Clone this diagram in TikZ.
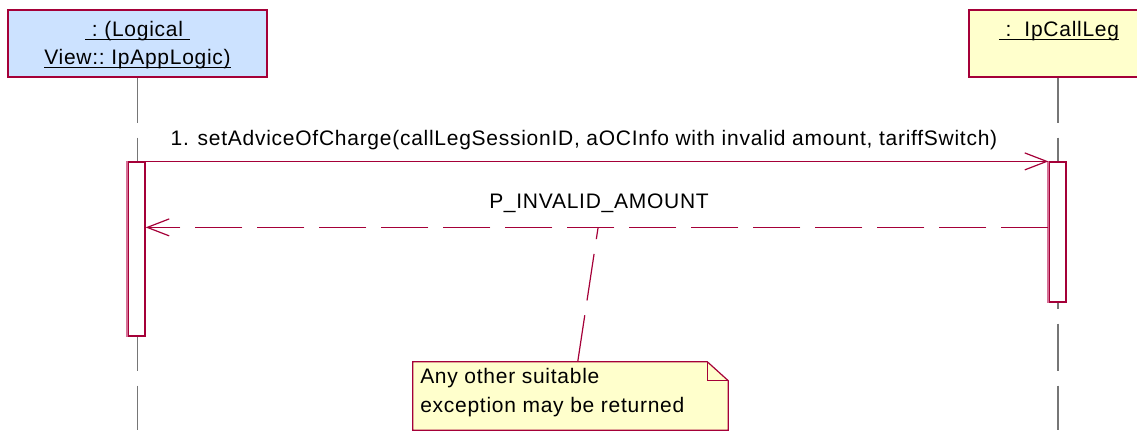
\documentclass[tikz,border=0pt]{standalone}
\usepackage{fontspec}
\setmainfont{Liberation Sans}
\usetikzlibrary{arrows.meta, positioning, calc}
\definecolor{umlred}{RGB}{165,0,56}
\definecolor{umlpink}{RGB}{214,112,150}
\definecolor{umlblue}{RGB}{204,226,255}
\definecolor{umlyellow}{RGB}{255,255,204}
\definecolor{lifegray}{RGB}{118,118,118}
\newcommand\pix{0.75pt}
\newcommand\umlfont{\fontsize{15.75pt}{21pt}\selectfont}
\newcommand\umlname[1]{\setbox0=\hbox{#1}\rlap{\rule[-2.4pt]{\wd0}{1.2pt}}\box0}

\begin{document}
\begin{tikzpicture}[x=0.75pt, y=-0.75pt,
  every node/.style={inner sep=0pt, font=\umlfont},
  objbox/.style={rectangle, draw=umlred, line width=0.9pt, minimum height=67*\pix},
  actbox/.style={rectangle, draw=umlred, fill=white, line width=0.9pt, minimum width=17*\pix},
  lifeline/.style={draw=lifegray, line width=1.2pt, dash pattern=on 35.25pt off 11.25pt, dash phase=1.5pt},
  msgline/.style={draw=umlred, line width=0.9pt},
  retline/.style={msgline, dash pattern=on 35.25pt off 11.25pt},
  opentip/.style={-{Straight Barb[length=16.5pt, width=12.75pt, line width=0.9pt]}},
  msgtext/.style={font=\umlfont\addfontfeature{LetterSpace=3.5}}]

\clip (0,0) rectangle (1137,445);

% objects
\node[objbox, fill=umlblue, minimum width=259*\pix] (appLogic) at (137.5,43.5) {};
\node[objbox, fill=umlyellow, minimum width=178*\pix] (callLeg) at (1058,43.5) {};
\node[msgtext, anchor=base] (appName1) at (137.5,37) {\umlname{\ :\ (Logical\ }};
\node[msgtext, anchor=base] (appName2) at (137.5,65) {\umlname{View::\ IpAppLogic)}};
\node[msgtext, anchor=base] (legName) at (1059,37) {\umlname{\ :\ \ IpCallLeg}};

% lifelines
\coordinate (appEnd) at (137.5,430);
\coordinate (legEnd) at (1058,430);
\draw[lifeline] (appLogic.south) -- (appEnd);
\draw[lifeline] (callLeg.south) -- (legEnd);

% activations
\node[actbox, minimum height=174*\pix] (appAct) at (136.5,249) {};
\node[actbox, minimum height=140*\pix] (legAct) at (1057.5,232) {};
\draw[umlpink, line width=1.4pt] (appAct.south west) -- (appAct.north west);
\draw[umlpink, line width=1.4pt] (legAct.south west) -- (legAct.north west);

% messages
\draw[msgline, opentip] (appAct.north east) -- (legAct.north west);
\node[msgtext, anchor=base] (msgCall) at (584,146)
  {1. setAdviceOfCharge(callLegSessionID, aOCInfo with invalid amount, tariffSwitch)};
\coordinate (retStart) at ($(legAct.north west)+(0,66)$);
\coordinate (retEnd) at ($(appAct.north east)+(0,66)$);
\draw[retline, opentip] (retStart) -- (retEnd);
\node[msgtext, anchor=base] (msgRet) at (599,209) {P\_INVALID\_AMOUNT};

% note
\node[minimum width=315*\pix, minimum height=68*\pix] (note) at (570.5,396) {};
\draw[umlred, line width=0.9pt, fill=umlyellow] (note.south west) -- (note.north west)
  -- ($(note.north east)+(-21,0)$) -- ($(note.north east)+(0,19)$) -- (note.south east) -- cycle;
\draw[umlred, line width=0.9pt] ($(note.north east)+(-21,0)$) |- ($(note.north east)+(0,19)$);
\node[msgtext, anchor=base west] (noteLine1) at (420,383) {Any other suitable};
\node[msgtext, anchor=base west] (noteLine2) at (420,412) {exception may be returned};
\coordinate (retTap) at (598,228);
\draw[retline] ($(note.north west)+(165,0)$) -- (retTap);

\end{tikzpicture}
\end{document}
